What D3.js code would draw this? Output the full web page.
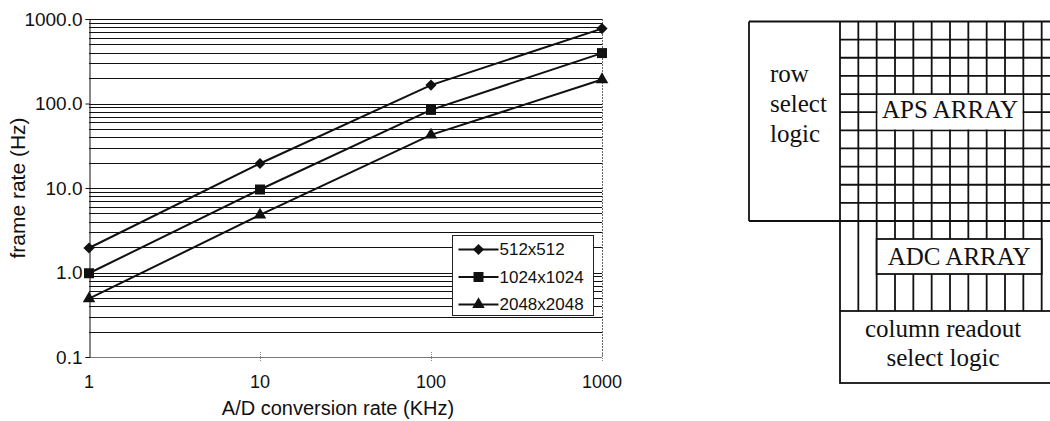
<!DOCTYPE html>
<html>
<head>
<meta charset="utf-8">
<script src="https://cdn.jsdelivr.net/npm/d3@7"></script>
<style>
  html, body { margin: 0; padding: 0; background: #fff; }
  svg { display: block; }
  .sans { font-family: "Liberation Sans", Arial, sans-serif; fill: #111; }
  .serif { font-family: "Liberation Serif", "Times New Roman", serif; fill: #111; }
</style>
</head>
<body>
<svg id="fig" width="1050" height="421"></svg>
<script>
// chart data
const rates = [1, 10, 100, 1000];
const fps512 = [1.95, 19.5, 165, 770];
const fps1024 = [0.98, 9.6, 84, 395];
const fps2048 = [0.49, 4.8, 42.5, 192];
const seriesNames = ["512x512", "1024x1024", "2048x2048"];
const xTicks = [1, 10, 100, 1000];
const yTicks = [0.1, 1, 10, 100, 1000];
const decades = [0.1, 1, 10, 100];
const minorSteps = [1, 2, 3, 4, 5, 6, 7, 8, 9];

// block diagram text
const rowLogicLines = ["row", "select", "logic"];
const readoutLines = ["column readout", "select logic"];
const apsLabel = "APS ARRAY";
const adcLabel = "ADC ARRAY";

const svg = d3.select("#fig");
svg.append("rect").attr("width", 1050).attr("height", 421).attr("fill", "#fff");

const x = d3.scaleLog().domain([1, 1000]).range([89, 602]);
const y = d3.scaleLog().domain([0.1, 1000]).range([357, 19]);

const chart = svg.append("g");

// horizontal gridlines (major + minor)
const gridVals = [];
decades.forEach(d => minorSteps.forEach(k => gridVals.push(d * k)));
gridVals.push(1000);

chart.selectAll(".grid")
    .data(gridVals.filter(v => v > 0.1))
    .enter()
    .append("line")
    .attr("x1", x(1))
    .attr("x2", x(1000))
    .attr("y1", d => Math.round(y(d)) + 0.5)
    .attr("y2", d => Math.round(y(d)) + 0.5)
    .attr("stroke", "#111")
    .attr("stroke-width", 1.2);

// bottom + right frame (light, dotted like the scan)
chart.append("line")
    .attr("x1", x(1)).attr("x2", x(1000))
    .attr("y1", Math.round(y(0.1)) + 0.5).attr("y2", Math.round(y(0.1)) + 0.5)
    .attr("stroke", "#777").attr("stroke-width", 1);
chart.append("line")
    .attr("x1", Math.round(x(1000)) + 0.5).attr("x2", Math.round(x(1000)) + 0.5)
    .attr("y1", y(1000)).attr("y2", y(0.1))
    .attr("stroke", "#666").attr("stroke-width", 1).attr("stroke-dasharray", "2,1");

// x ticks
chart.selectAll(".xtick")
    .data(xTicks.slice(1))
    .enter()
    .append("line")
    .attr("x1", d => Math.round(x(d)) + 0.5)
    .attr("x2", d => Math.round(x(d)) + 0.5)
    .attr("y1", y(0.1) - 5)
    .attr("y2", y(0.1) + 5)
    .attr("stroke", "#888")
    .attr("stroke-dasharray", "1,1");

// y axis
const yAxis = chart.append("g")
    .attr("transform", `translate(${Math.round(x(1)) + 0.5},0)`)
    .call(d3.axisLeft(y).tickValues(yTicks).tickFormat(d3.format(".1f")).tickSize(4).tickPadding(3));
yAxis.select(".domain").attr("stroke", "#111");
yAxis.selectAll(".tick line").attr("stroke", "#111");
yAxis.selectAll("text")
    .attr("class", "sans")
    .style("font-size", "19px");

// x tick labels
chart.selectAll(".xlab")
    .data(xTicks)
    .enter()
    .append("text")
    .attr("class", "sans")
    .attr("x", d => x(d))
    .attr("y", 388)
    .attr("text-anchor", "middle")
    .style("font-size", "18px")
    .text(d3.format("d"));

// axis titles
chart.append("text")
    .attr("class", "sans")
    .attr("x", 338)
    .attr("y", 415)
    .attr("text-anchor", "middle")
    .style("font-size", "20px")
    .text("A/D conversion rate (KHz)");

chart.append("text")
    .attr("class", "sans")
    .attr("transform", `translate(25,${(y(1000) + y(0.1)) / 2}) rotate(-90)`)
    .attr("text-anchor", "middle")
    .style("font-size", "21px")
    .text("frame rate (Hz)");

// series
const series = [fps512, fps1024, fps2048];
const symbols = [
    { type: d3.symbolSquare, size: 62, rotate: 45 },
    { type: d3.symbolSquare, size: 100, rotate: 0 },
    { type: d3.symbolTriangle, size: 68, rotate: 0 }
];

const line = d3.line()
    .x((d, i) => x(rates[i]))
    .y(d => y(d));

series.forEach((vals, si) => {
    chart.append("path")
        .datum(vals)
        .attr("d", line)
        .attr("fill", "none")
        .attr("stroke", "#111")
        .attr("stroke-width", 2);

    chart.selectAll(".m" + si)
        .data(vals)
        .enter()
        .append("path")
        .attr("d", d3.symbol().type(symbols[si].type).size(symbols[si].size))
        .attr("transform", (d, i) => `translate(${x(rates[i])},${y(d)}) rotate(${symbols[si].rotate})`)
        .attr("fill", "#111");
});

// legend
const legend = chart.append("g").attr("transform", "translate(452.5,235.5)");
legend.append("rect")
    .attr("width", 141)
    .attr("height", 80)
    .attr("fill", "#fff")
    .attr("stroke", "#222")
    .attr("stroke-width", 1);

const legItems = legend.selectAll(".leg")
    .data(seriesNames)
    .enter()
    .append("g")
    .attr("transform", (d, i) => `translate(0,${14 + i * 27.5})`);

legItems.append("line")
    .attr("x1", 6).attr("x2", 46)
    .attr("stroke", "#111").attr("stroke-width", 2);

legItems.append("path")
    .attr("d", (d, i) => d3.symbol().type(symbols[i].type).size(symbols[i].size)())
    .attr("transform", (d, i) => `translate(26,0) rotate(${symbols[i].rotate})`)
    .attr("fill", "#111");

legItems.append("text")
    .attr("class", "sans")
    .attr("x", 47)
    .attr("dy", "0.35em")
    .style("font-size", "17px")
    .text(d => d);

// ---------- block diagram ----------
const diag = svg.append("g");
const colX = d3.scaleLinear().domain([0, 12]).range([840, 1060]);
const rowY = d3.scaleLinear().domain([0, 11]).range([21.5, 221]);
const sw = 1.8;

const colIdx = d3.range(12);
const rowIdx = d3.range(12);

// pixel grid
diag.selectAll(".vc")
    .data(colIdx)
    .enter()
    .append("line")
    .attr("x1", d => colX(d)).attr("x2", d => colX(d))
    .attr("y1", rowY(0)).attr("y2", 311)
    .attr("stroke", "#111").attr("stroke-width", sw);

diag.selectAll(".hr")
    .data(rowIdx)
    .enter()
    .append("line")
    .attr("x1", d => (d === 0 || d === 11) ? 749 : colX(0))
    .attr("x2", 1060)
    .attr("y1", d => rowY(d)).attr("y2", d => rowY(d))
    .attr("stroke", "#111").attr("stroke-width", sw);

// row select box side
diag.append("line")
    .attr("x1", 749).attr("x2", 749)
    .attr("y1", rowY(0)).attr("y2", rowY(11))
    .attr("stroke", "#111").attr("stroke-width", sw);

diag.selectAll(".rowtxt")
    .data(rowLogicLines)
    .enter()
    .append("text")
    .attr("class", "serif")
    .attr("x", 770)
    .attr("y", (d, i) => 82 + i * 30)
    .style("font-size", "25px")
    .text(d => d);

// APS label box (white patch framed by grid lines)
diag.append("rect")
    .attr("x", colX(2) + sw / 2)
    .attr("y", rowY(4) + sw / 2)
    .attr("width", colX(10) - colX(2) - sw)
    .attr("height", rowY(6) - rowY(4) - sw)
    .attr("fill", "#fff");
diag.append("text")
    .attr("class", "serif")
    .attr("x", (colX(2) + colX(10)) / 2)
    .attr("y", 118)
    .attr("text-anchor", "middle")
    .style("font-size", "25px")
    .text(apsLabel);

// ADC box
diag.append("rect")
    .attr("x", colX(2))
    .attr("y", 239)
    .attr("width", colX(11) - colX(2))
    .attr("height", 35)
    .attr("fill", "#fff")
    .attr("stroke", "#111")
    .attr("stroke-width", sw);
diag.append("text")
    .attr("class", "serif")
    .attr("x", (colX(2) + colX(11)) / 2)
    .attr("y", 265)
    .attr("text-anchor", "middle")
    .style("font-size", "25px")
    .text(adcLabel);

// column readout box
diag.append("rect")
    .attr("x", colX(0))
    .attr("y", 311)
    .attr("width", 240)
    .attr("height", 72)
    .attr("fill", "#fff")
    .attr("stroke", "#111")
    .attr("stroke-width", sw);
diag.selectAll(".rdtxt")
    .data(readoutLines)
    .enter()
    .append("text")
    .attr("class", "serif")
    .attr("x", 943)
    .attr("y", (d, i) => 337 + i * 29)
    .attr("text-anchor", "middle")
    .style("font-size", "25px")
    .text(d => d);
</script>
</body>
</html>
